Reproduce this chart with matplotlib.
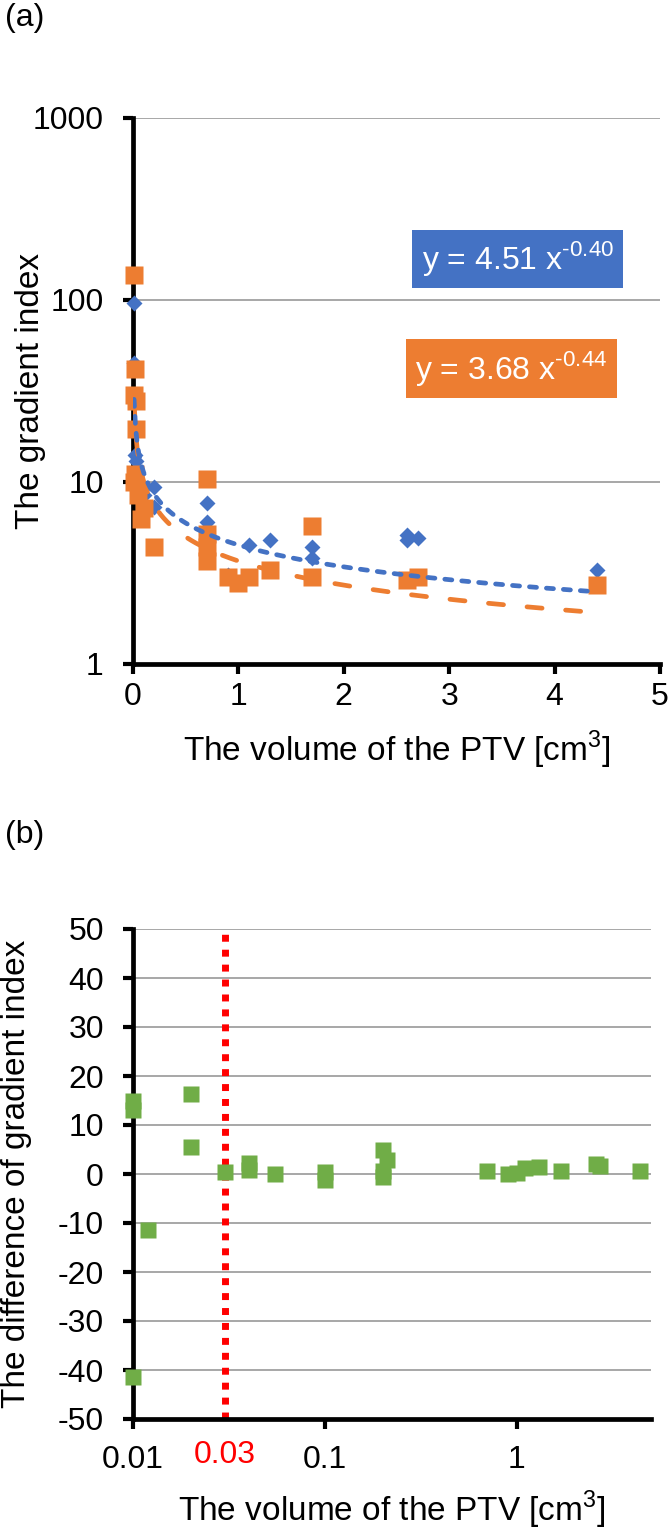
# Gradient index vs PTV volume, (a) power fits and (b) differences
import numpy as np
from matplotlib import pyplot as plt
import matplotlib

matplotlib.rcParams.update({'font.size': 23, 'font.family': ['Liberation Sans', 'DejaVu Sans'],
                            'mathtext.fontset': 'custom', 'mathtext.rm': 'Liberation Sans',
                            'axes.unicode_minus': False})

# (a) gradient index, two series
blue_x = [0.01, 0.01, 0.02, 0.02, 0.03, 0.05, 0.1, 0.2, 0.2, 0.7, 0.7, 0.9, 1.1, 1.3, 1.7, 1.7, 2.6, 2.6, 2.7, 4.4]
blue_y = [96, 45, 27, 14, 13, 11, 8.5, 9.4, 7.3, 7.7, 6.0, 3.1, 4.5, 4.8, 4.4, 3.8, 5.1, 4.8, 4.9, 3.3]
orange_x = [0.01, 0.02, 0.01, 0.03, 0.03, 0.02, 0.01, 0.05, 0.08, 0.1, 0.2, 0.7, 0.7, 0.7, 0.7,
            0.9, 1.0, 1.1, 1.3, 1.7, 1.7, 2.6, 2.7, 4.4]
orange_y = [137, 42, 30, 28, 19.5, 11, 10, 8.5, 6.3, 7.2, 4.4, 10.4, 5.2, 4.4, 3.7,
            3.0, 2.8, 3.0, 3.3, 5.7, 3.0, 2.9, 3.0, 2.7]
# power trendlines y = a x^b
blue_a, blue_b = 4.51, -0.40
orange_a, orange_b = 3.68, -0.44

# (b) difference of gradient index
diff_x = [0.01, 0.01, 0.01, 0.012, 0.02, 0.02, 0.03, 0.04, 0.04, 0.055, 0.1, 0.1, 0.2, 0.21, 0.2, 0.2,
          0.7, 0.9, 1.0, 1.1, 1.3, 1.7, 2.6, 2.7, 4.4]
diff_y = [15, 13, -41.5, -11.5, 16.3, 5.5, 0.5, 0.8, 2.2, 0, 0.5, -1.2, 5.0, 2.9, 0.6, -0.6,
          0.6, 0, 0.2, 1.2, 1.5, 0.7, 2.0, 1.7, 0.6]
cut_x = 0.03

BLUE = '#4472C4'
ORANGE = '#ED7D31'
GREEN = '#70AD47'
GRID = '#a0a0a0'

fig = plt.figure(figsize=(6.69, 15.29), dpi=100)

def style(ax):
    for s in ['top', 'right']:
        ax.spines[s].set_visible(False)
    for s in ['left', 'bottom']:
        ax.spines[s].set_linewidth(3.4)
        ax.spines[s].set_capstyle('projecting')
    ax.tick_params(axis='both', which='major', width=3, length=7, direction='out')
    ax.tick_params(axis='y', pad=14)
    ax.tick_params(axis='both', which='minor', length=0)
    ax.grid(axis='y', color=GRID, linewidth=1.3)
    ax.set_axisbelow(True)

def eq(a, b):
    # Excel style trendline label, hyphen in the exponent
    return 'y = %.2f x$^{\\text{%.2f}}$' % (a, b)

# ---- panel (a)
ax1 = fig.add_axes([133/669, 1-664/1529, 527/669, 546/1529])
style(ax1)
ax1.tick_params(axis='x', pad=6)
ax1.set_yscale('log')
ax1.set_ylim(1, 1000)
ax1.set_xlim(0, 5)
ax1.set_xticks(range(6))
ax1.set_yticks([1, 10, 100, 1000])
ax1.set_yticklabels(['1', '10', '100', '1000'])
ax1.plot(blue_x, blue_y, 'D', color=BLUE, ms=8.5, mec='none', zorder=3, clip_on=False)
ax1.plot(orange_x, orange_y, 's', color=ORANGE, ms=13, mec='none', zorder=4, clip_on=False)
xx = np.linspace(min(blue_x), max(blue_x), 300)
ax1.plot(xx, orange_a*xx**orange_b, color=ORANGE, lw=3.4, dashes=(3.2, 5.0), dash_capstyle='round', zorder=5)
ax1.plot(xx, blue_a*xx**blue_b, color=BLUE, lw=3.4, dashes=(1.5, 2.1), dash_capstyle='round', zorder=6)
ax1.text(3.65, 168, eq(blue_a, blue_b), color='white', ha='center', va='center',
         bbox=dict(boxstyle='square,pad=0.3', fc=BLUE, ec='none'), zorder=7)
ax1.text(3.59, 42, eq(orange_a, orange_b), color='white', ha='center', va='center',
         bbox=dict(boxstyle='square,pad=0.3', fc=ORANGE, ec='none'), zorder=7)
ax1.set_ylabel('The gradient index', fontsize=24)
ax1.yaxis.set_label_coords(-0.165, 0.5)
ax1.set_xlabel('The volume of the PTV [cm$^{\\mathregular{3}}$]', fontsize=24, labelpad=12)
fig.text(5/669, 1-18/1529, '(a)', ha='left', va='center')

# ---- panel (b)
ax2 = fig.add_axes([133/669, 1-1419/1529, 518/669, 490/1529])
style(ax2)
ax2.tick_params(axis='x', pad=12)
ax2.set_xscale('log')
ax2.set_xlim(0.01, 5)
ax2.set_ylim(-50, 50)
ax2.set_yticks(np.arange(-50, 51, 10))
ax2.set_xticks([0.01, 0.1, 1])
ax2.set_xticklabels(['0.01', '0.1', '1'])
ax2.axvline(cut_x, color='red', lw=5, ls=(0, (1, 1.15)), zorder=2)
ax2.plot(diff_x, diff_y, 's', color=GREEN, ms=12, mec='none', zorder=3, clip_on=False)
ax2.annotate('0.03', xy=(cut_x, -50), xytext=(0, -26), textcoords='offset points',
             color='red', ha='center', va='center', annotation_clip=False)
ax2.set_ylabel('The difference of gradient index', fontsize=24)
ax2.yaxis.set_label_coords(-0.195, 0.5)
ax2.set_xlabel('The volume of the PTV [cm$^{\\mathregular{3}}$]', fontsize=24, labelpad=10)
fig.text(5/669, 1-835/1529, '(b)', ha='left', va='center')

plt.savefig('out.png', dpi=100)
